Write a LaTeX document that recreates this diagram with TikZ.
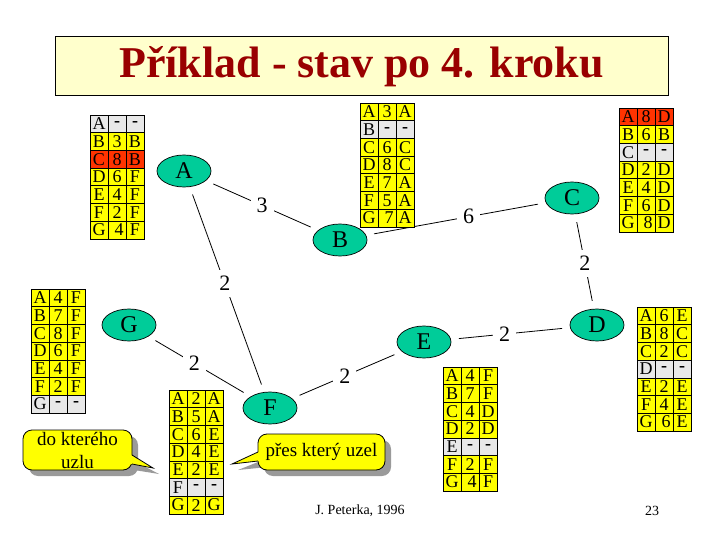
\documentclass[tikz,border=0pt]{standalone}
\usepackage{fontspec}
\setmainfont{Liberation Serif}
\usetikzlibrary{shapes.geometric}
\definecolor{yel}{HTML}{FFFF00}
\definecolor{redc}{HTML}{FF3300}
\definecolor{gry}{HTML}{E8E8E8}
\definecolor{nodeteal}{HTML}{00CC99}
\definecolor{titlered}{HTML}{990000}
\definecolor{titlebg}{HTML}{FFFFCC}
\definecolor{shad}{HTML}{9A9A9A}
\tikzset{
  cell/.style={draw=black, line width=0.6pt, minimum width=18pt, minimum height=17.7pt,
    inner sep=0pt, font=\fontsize{18}{18}\selectfont},
  ell/.style={ellipse, draw=black, line width=0.7pt, fill=nodeteal, minimum width=54pt,
    minimum height=32pt, inner sep=0pt, font=\fontsize{24}{24}\selectfont},
  edge/.style={line width=0.8pt, shorten <=8pt, shorten >=8pt},
  lbl/.style={fill=white, inner sep=6pt, font=\fontsize{22}{22}\selectfont},
  ctext/.style={align=center, font=\fontsize{19}{23}\selectfont, inner sep=0pt},
  foottext/.style={font=\fontsize{14}{14}\selectfont, inner sep=0pt},
}
\newcommand\dtab[3]{%
\begin{scope}[shift={(#2)}]
\foreach \a/\b/\c/\f [count=\i] in {#3} {
  \node[cell,fill=\f] (#1-\i-1) at (9,{(\i-0.5)*17.7}) {\a};
  \node[cell,fill=\f] (#1-\i-2) at (27,{(\i-0.5)*17.7}) {\b};
  \node[cell,fill=\f] (#1-\i-3) at (45,{(\i-0.5)*17.7}) {\c};
}
\end{scope}}
\newcommand\gsh[1]{\hspace*{4pt}#1}
\begin{document}
\begin{tikzpicture}[x=1pt,y=-1pt]
\useasboundingbox (0,0) rectangle (720,540);
\fill[white] (0,0) rectangle (720,540);
% title
\draw[fill=titlebg, line width=1pt] (55,37) rectangle (668,96);
\node[text=titlered, font=\fontsize{44}{44}\selectfont\bfseries] (title) at (361.5,67) {Příklad - stav po 4. kroku};
% graph nodes
\node[ell] (A) at (184,171) {A};
\node[ell] (B) at (340,240) {B};
\node[ell] (C) at (572,198) {C};
\node[ell] (D) at (597,325) {D};
\node[ell] (E) at (424,342) {E};
\node[ell] (F) at (270,408) {F};
\node[ell] (G) at (129,325) {G};
% edges
\draw[edge] (A) -- node[lbl] (lAB) {3} (B);
\draw[edge] (A) -- node[lbl, pos=0.47] (lAF) {2} (F);
\draw[edge] (B) -- node[lbl, pos=0.57] (lBC) {6} (C);
\draw[edge] (C) -- node[lbl, pos=0.52] (lCD) {2} (D);
\draw[edge] (D) -- node[lbl, pos=0.55] (lDE) {2} (E);
\draw[edge] (E) -- node[lbl, pos=0.52] (lEF) {2} (F);
\draw[edge] (G) -- node[lbl, pos=0.45] (lGF) {2} (F);
% tables
\dtab{tA}{90,115}{A/\textbf{-}/\textbf{-}/gry, B/3/B/yel, C/8/B/redc, D/6/F/yel, E/4/F/yel, F/2/F/yel, G/\gsh{4}/F/yel}
\dtab{tB}{360,103}{A/3/A/yel, B/\textbf{-}/\textbf{-}/gry, C/6/C/yel, D/8/C/yel, E/7/A/yel, F/5/A/yel, G/\gsh{7}/A/yel}
\dtab{tC}{619,108}{A/8/D/redc, B/6/B/yel, C/\textbf{-}/\textbf{-}/gry, D/2/D/yel, E/4/D/yel, F/6/D/yel, G/\gsh{8}/D/yel}
\dtab{tG}{31,289}{A/4/F/yel, B/7/F/yel, C/8/F/yel, D/6/F/yel, E/4/F/yel, F/2/F/yel, G/\textbf{-}/\textbf{-}/gry}
\dtab{tD}{637,307}{A/6/E/yel, B/8/C/yel, C/2/C/yel, D/\textbf{-}/\textbf{-}/gry, E/2/E/yel, F/4/E/yel, G/\gsh{6}/E/yel}
\dtab{tE}{443,367}{A/4/F/yel, B/7/F/yel, C/4/D/yel, D/2/D/yel, E/\textbf{-}/\textbf{-}/gry, F/2/F/yel, G/\gsh{4}/F/yel}
\dtab{tF}{169,390}{A/2/A/yel, B/5/A/yel, C/6/E/yel, D/4/E/yel, E/2/E/yel, F/\textbf{-}/\textbf{-}/gry, G/2/G/yel}
% callout shadows
\begin{scope}[shift={(6,6)}]
  \fill[shad, rounded corners=9pt] (23,430) rectangle (132,470);
  \fill[shad] (128,455) -- (153,468) -- (128,464) -- cycle;
  \fill[shad, rounded corners=9pt] (258,434) rectangle (385,470);
  \fill[shad] (262,452) -- (232,464) -- (262,461) -- cycle;
\end{scope}
% left callout
\draw[fill=yel, line width=0.8pt, rounded corners=9pt] (23,430) rectangle (132,470);
\fill[yel] (131,455) -- (153,468) -- (131,464) -- cycle;
\draw[line width=0.8pt] (132,455) -- (153,468) -- (132,464);
\node[ctext] (c1) at (77.5,450) {do kterého\\uzlu};
% right callout
\draw[fill=yel, line width=0.8pt, rounded corners=9pt] (258,434) rectangle (385,470);
\fill[yel] (259,452) -- (232,464) -- (259,461) -- cycle;
\draw[line width=0.8pt] (258,452) -- (232,464) -- (258,461);
\node[ctext] (c2) at (321.5,452) {přes který uzel};
% footer
\node[foottext] (foot) at (360,511) {J. Peterka, 1996};
\node[foottext] (page) at (652,511) {23};
\end{tikzpicture}
\end{document}
